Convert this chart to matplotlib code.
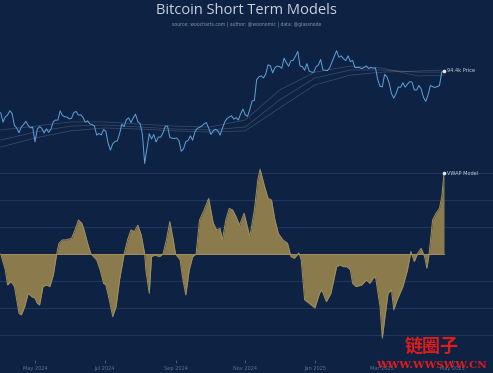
import numpy as np
import pandas as pd
import matplotlib
matplotlib.use('Agg')
import matplotlib.pyplot as plt
import matplotlib.dates as mdates

# BTC price (k USD), every 2 days from 2024-04-01
price = [70.5, 66.0, 68.5, 69.4, 71.5, 70.0, 64.5, 63.4, 61.3, 63.8, 64.9, 66.4, 64.5, 63.4, 63.8,
         57.5, 62.9, 64.0, 63.2, 61.2, 63.0, 61.5, 62.9, 66.2, 67.0, 66.9, 71.4, 69.2, 68.5, 68.4, 67.5,
         67.8, 70.6, 71.1, 69.3, 69.5, 68.2, 66.0, 66.6, 65.2, 64.9, 64.3, 60.3, 61.0, 60.4, 62.7,
         62.0, 57.0, 54.3, 56.7, 57.7, 57.9, 60.8, 65.1, 64.0, 67.2, 68.0, 65.8, 68.0, 69.8, 66.2,
         65.4, 60.7, 49.5, 55.0, 60.9, 58.7, 60.6, 57.5, 59.5, 59.5, 61.2, 64.1, 64.2, 59.4, 59.0, 58.9,
         59.1, 58.0, 53.9, 54.8, 57.6, 58.1, 60.0, 58.2, 61.7, 63.2, 63.6, 64.3, 65.2, 65.8, 63.3,
         60.6, 62.1, 62.8, 62.2, 60.3, 63.2, 66.0, 67.6, 68.4, 69.0, 67.4, 68.1, 67.0, 69.9, 72.3,
         69.5, 68.7, 72.0, 76.5, 76.7, 88.7, 90.5, 91.1, 89.8, 92.3, 98.4, 97.8, 93.0, 96.4, 97.5,
         97.2, 96.0, 103.0, 99.9, 97.4, 101.2, 101.4, 104.4, 108.0, 97.5, 97.2, 94.7, 99.2, 94.2, 93.5, 93.4,
         97.0, 98.2, 102.1, 95.0, 94.7, 94.5, 96.5, 100.5, 104.5, 108.5, 103.7, 104.7, 102.6, 101.3, 104.7,
         100.6, 101.4, 96.6, 96.5, 96.5, 95.8, 96.6, 97.6, 95.8, 96.6, 96.1, 96.3, 88.7, 84.7,
         84.4, 92.0, 90.6, 86.7, 80.6, 78.0, 80.5, 84.3, 84.1, 86.8, 84.2, 86.0, 87.5, 87.2, 82.6, 82.5,
         85.2, 83.2, 78.4, 76.3, 79.6, 85.2, 84.5, 84.0, 84.5, 85.1, 93.4, 94.4]
price_dates = pd.date_range('2024-04-01', periods=len(price), freq='2D')

# slower average lines, read monthly
ma_dates = pd.to_datetime(['2024-04-01', '2024-05-01', '2024-06-01', '2024-07-01', '2024-08-01',
                           '2024-09-01', '2024-10-01', '2024-11-01', '2024-12-01', '2025-01-01',
                           '2025-02-01', '2025-03-01', '2025-04-01', '2025-04-24'])
ma1 = [62.5, 64.2, 66.1, 66.1, 65.1, 64.2, 63.8, 67.0, 82.5, 93.5, 97.5, 96.2, 91.0, 91.6]
ma2 = [58.3, 61.6, 64.2, 64.7, 63.8, 62.9, 62.5, 63.8, 77.0, 89.7, 94.9, 94.9, 93.5, 93.5]
ma3 = [55.5, 59.1, 62.1, 63.4, 62.9, 62.1, 61.6, 62.1, 72.8, 85.5, 91.6, 93.5, 94.2, 94.9]

# VWAP model oscillator
osc_dates = pd.to_datetime([
    '2024-04-01', '2024-04-05', '2024-04-07', '2024-04-10', '2024-04-13', '2024-04-17', '2024-04-19', '2024-04-22', '2024-04-25', '2024-04-28',
    '2024-05-01', '2024-05-03', '2024-05-05', '2024-05-08', '2024-05-11', '2024-05-14', '2024-05-17', '2024-05-20', '2024-05-22', '2024-05-25', '2024-05-28',
    '2024-06-02', '2024-06-05', '2024-06-08', '2024-06-11', '2024-06-13', '2024-06-16', '2024-06-19', '2024-06-24', '2024-06-27', '2024-06-30',
    '2024-07-02', '2024-07-05', '2024-07-08', '2024-07-11', '2024-07-14', '2024-07-18', '2024-07-21', '2024-07-24', '2024-07-27', '2024-07-30',
    '2024-08-02', '2024-08-05', '2024-08-06', '2024-08-09', '2024-08-11', '2024-08-14', '2024-08-18', '2024-08-21', '2024-08-24', '2024-08-27', '2024-08-30',
    '2024-09-01', '2024-09-05', '2024-09-07', '2024-09-10', '2024-09-13', '2024-09-16', '2024-09-19', '2024-09-22', '2024-09-26', '2024-09-30',
    '2024-10-04', '2024-10-07', '2024-10-10', '2024-10-12', '2024-10-15', '2024-10-18', '2024-10-21', '2024-10-24', '2024-10-27', '2024-10-31',
    '2024-11-05', '2024-11-09', '2024-11-12', '2024-11-14', '2024-11-18', '2024-11-21', '2024-11-24', '2024-11-27', '2024-11-30',
    '2024-12-04', '2024-12-08', '2024-12-11', '2024-12-14', '2024-12-18', '2024-12-20', '2024-12-23', '2024-12-27',
    '2025-01-01', '2025-01-05', '2025-01-07', '2025-01-11', '2025-01-15', '2025-01-20', '2025-01-23', '2025-01-26', '2025-01-29',
    '2025-02-01', '2025-02-03', '2025-02-06', '2025-02-11', '2025-02-15', '2025-02-18', '2025-02-21', '2025-02-23', '2025-02-27',
    '2025-03-01', '2025-03-03', '2025-03-06', '2025-03-09', '2025-03-11', '2025-03-14', '2025-03-19', '2025-03-23', '2025-03-26', '2025-03-29',
    '2025-04-01', '2025-04-04', '2025-04-07', '2025-04-09', '2025-04-11', '2025-04-14', '2025-04-17', '2025-04-20', '2025-04-22', '2025-04-24'])
osc = [0, -5.9, -11.5, -10.2, -12.1, -22, -22.6, -19.5, -14.6, -15.8,
       -16.4, -18.3, -18.9, -12.1, -11.5, -12.1, -7.8, 0, 4, 5.2, 5.2,
       5.8, 8.9, 12.6, 11.4, 8.9, 4, 0, -2.2, -5.9, -10.9,
       -11.5, -17, -23.2, -19.5, -9.6, 0, 5.2, 8.9, 8.3, 10.7,
       7, 0, -5.9, -14.6, -1, -0.4, -1, 0, 5.2, 12, 5.2,
       0, -2.2, -8.4, -15.2, -5.9, -1, 0, 12.6, 16.3, 20.6,
       11.4, 8.9, 9.5, 5.2, 12.6, 16.9, 16.3, 13.8, 10.7, 15.1,
       6.4, 16.3, 27.4, 31.4, 24.9, 20.6, 20, 12.6, 7.6,
       5.2, 4, -1, -1.6, 0.4, -2.2, -17, -18.3,
       -20, -14.6, -13.3, -17.7, -14.6, -4.7, -4.1, -4.7, -4.7,
       -5.9, -10.9, -12.1, -11.5, -9.6, -10.9, -9, -8.4, -19.5,
       -31.2, -24.4, -14.6, -13.3, -20.7, -17, -12.1, -5.9, 0.9, -2.8,
       0.3, 2.1, -1, -5.3, 0.3, 12.6, 15.1, 16.9, 21.2, 29.9]

grid_levels = [-30, -20, -10, 10, 20, 30]
tick_dates = pd.to_datetime(['2024-05-01', '2024-07-01', '2024-09-01', '2024-11-01',
                             '2025-01-01', '2025-03-01', '2025-05-01'])

bg = '#0e2244'
label_col = '#c9d1dc'
tick_col = '#5c7296'

fig = plt.figure(figsize=(4.93, 3.73), dpi=100, facecolor=bg)
xlim = (pd.Timestamp('2024-03-31 09:00'), pd.Timestamp('2025-06-05 21:00'))

# bottom panel first so the price panel sits on top
ax2 = fig.add_axes([0, 0.0349, 1, 0.528])
ax2.set_facecolor('none')
for g in grid_levels:
    ax2.axhline(g, color='#1f375c', lw=0.8, zorder=0)
ax2.fill_between(osc_dates, osc, 0, color='#8a7a4c', lw=0, interpolate=True, zorder=2)
ax2.plot(osc_dates, osc, color='#a08f5c', lw=0.7, zorder=3)
ax2.plot([osc_dates[0], osc_dates[-1]], [0, 0], color='#a08f5c', lw=0.7, zorder=3)
ax2.plot(osc_dates[-1], osc[-1], 'o', ms=1.6, color='#e8e8e8', zorder=4)
ax2.annotate('VWAP Model', (osc_dates[-1], osc[-1]), xytext=(2.5, 0), textcoords='offset points',
             fontsize=3.6, color=label_col, va='center', ha='left')
ax2.set_xlim(xlim)
ax2.set_ylim(-39.3, 33.7)
ax2.set_yticks([])
ax2.set_xticks(tick_dates)
ax2.xaxis.set_major_formatter(mdates.DateFormatter('%b %Y'))
ax2.tick_params(axis='x', colors=tick_col, labelsize=3.6, length=2, width=0.5, pad=2.5)
for s in ax2.spines.values():
    s.set_visible(False)

ax1 = fig.add_axes([0, 0.5442, 1, 0.3351])
ax1.set_facecolor('none')
ax1.set_yscale('log')
for m in [ma1, ma2, ma3]:
    ax1.plot(ma_dates, m, color='#aab4c4', lw=0.5, alpha=0.3)
ax1.plot(price_dates, price, color='#5ea3dc', lw=0.7)
ax1.plot(price_dates[-1], price[-1], 'o', ms=1.6, color='#e8e8e8')
ax1.annotate('94.4k Price', (price_dates[-1], price[-1]), xytext=(2.5, 0), textcoords='offset points',
             fontsize=3.6, color=label_col, va='center', ha='left')
ax1.set_xlim(xlim)
ax1.set_ylim(47.3, 112.9)
ax1.set_xticks([])
ax1.set_yticks([])
ax1.minorticks_off()
for s in ax1.spines.values():
    s.set_visible(False)

fig.text(0.5, 0.972, 'Bitcoin Short Term Models', ha='center', va='center',
         fontsize=10.5, color=label_col, family='Open Sans')
fig.text(0.5, 1 - 24 / 373, 'source: woocharts.com | author: @woonomic | data: @glassnode',
         ha='center', va='center', fontsize=3.3, color='#8593ab')

# site watermark
fig.text(432 / 493, 1 - 346 / 373, '链圈子', ha='center', va='center', fontsize=13,
         color='#e21b1b', weight='bold', family=['Noto Sans CJK SC', 'DejaVu Sans'])
fig.text(431 / 493, 1 - 366 / 373, 'WWW.WWSWW.CN', ha='center', va='center', fontsize=7.5,
         color='#e21b1b', weight='bold', family='DejaVu Serif')

fig.savefig('out.png', dpi=100, facecolor=bg)
